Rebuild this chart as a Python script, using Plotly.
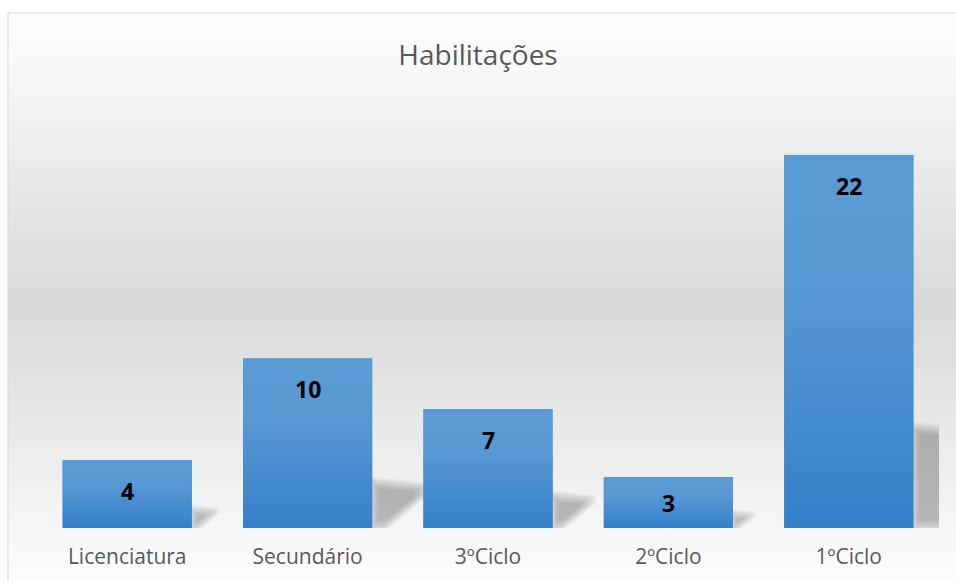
import base64, math, struct, zlib
import plotly.graph_objects as go

categories = ["Licenciatura", "Secundário", "3ºCiclo", "2ºCiclo", "1ºCiclo"]
values = [4, 10, 7, 3, 22]
title_text = "Habilitações"

W, H = 956, 581
L, R, T, B = 37, 17, 104, 53
Y_MAX = 25
plot_h = H - T - B
plot_w = W - L - R
BAR_W = 0.716
PPU_Y = plot_h / Y_MAX          # pixels per value unit
PPU_X = plot_w / len(categories)  # pixels per category unit

def px_to_paper_y(py):
    return (H - B - py) / plot_h

def px_to_paper_x(px):
    return (px - L) / plot_w

def make_png(colors):
    raw = b"".join(b"\x00" + bytes(c) for c in colors)
    def chunk(tag, data):
        c = struct.pack(">I", len(data)) + tag + data
        return c + struct.pack(">I", zlib.crc32(tag + data) & 0xffffffff)
    png = b"\x89PNG\r\n\x1a\n"
    png += chunk(b"IHDR", struct.pack(">IIBBBBB", 1, len(colors), 8, 2, 0, 0, 0))
    png += chunk(b"IDAT", zlib.compress(raw))
    png += chunk(b"IEND", b"")
    return "data:image/png;base64," + base64.b64encode(png).decode()

def lerp(a, b, t):
    return tuple(int(round(a[k] + (b[k] - a[k]) * t)) for k in range(3))

def stops_png(stops, n=300):
    cols = []
    for k in range(n):
        f = k / (n - 1)
        for (f0, c0), (f1, c1) in zip(stops[:-1], stops[1:]):
            if f0 <= f <= f1:
                cols.append(lerp(c0, c1, (f - f0) / (f1 - f0) if f1 > f0 else 0))
                break
    return make_png(cols)

bg_png = stops_png([(0.0, (255, 255, 255)), (0.5, (217, 217, 217)), (1.0, (255, 255, 255))])
bar_png = stops_png([(0.0, (91, 155, 213)), (0.35, (88, 152, 212)), (1.0, (53, 128, 202))])

frame_top_px, frame_bot_px = 13, 595
frame_left_px, frame_right_px = 8, 975

fig = go.Figure()
fig.add_trace(go.Bar(
    x=categories, y=values,
    marker=dict(color="#4a8ed2", line=dict(width=0)),
    width=BAR_W, hoverinfo="x+y",
))

bar_hw = BAR_W / 2
shapes = []
# soft perspective shadows to the right of each bar (layered offsets for blur)
offsets_px = [-9, -7, -5, -3, -1, 1, 3, 5, 7, 9]
for i, v in enumerate(values):
    x0 = i + bar_hw
    h = v * 0.27
    w = v * 0.028
    cx, cy = x0 + 0.4 * w, 0.55 * h
    pts = [(x0, 0), (x0, h), (x0 + w, 0.9 * h), (x0 + w, 0.72 * h), (x0 + 0.22 * w, 0)]
    for d in offsets_px:
        sp = []
        for px, py in pts:
            dx, dy = (px - cx) * PPU_X, (py - cy) * PPU_Y
            n = math.hypot(dx, dy) or 1.0
            sp.append((px + d * dx / n / PPU_X, py + d * dy / n / PPU_Y))
        path = "M " + " L ".join(f"{a:.4f},{b:.4f}" for a, b in sp) + " Z"
        shapes.append(dict(type="path", xref="x", yref="y", path=path,
                           fillcolor="rgba(0,0,0,0.028)", line=dict(width=0),
                           layer="below"))

shapes.append(dict(type="rect", xref="paper", yref="paper",
                   x0=px_to_paper_x(frame_left_px), x1=px_to_paper_x(frame_right_px),
                   y0=px_to_paper_y(frame_bot_px), y1=px_to_paper_y(frame_top_px),
                   line=dict(color="#d9d9d9", width=1), fillcolor="rgba(0,0,0,0)",
                   layer="above"))

images = [dict(source=bg_png, xref="paper", yref="paper",
               x=px_to_paper_x(frame_left_px), y=px_to_paper_y(frame_top_px),
               sizex=px_to_paper_x(frame_right_px) - px_to_paper_x(frame_left_px),
               sizey=px_to_paper_y(frame_top_px) - px_to_paper_y(frame_bot_px),
               sizing="stretch", xanchor="left", yanchor="top", layer="below")]
# vertical gradient fill laid over each bar
for i, v in enumerate(values):
    images.append(dict(source=bar_png, xref="x", yref="y", x=i - bar_hw, y=v,
                       sizex=BAR_W, sizey=v, sizing="stretch",
                       xanchor="left", yanchor="top", layer="above"))

# data labels: "inside end", falling back to bar centre when the bar is short
annotations = []
for c, v in zip(categories, values):
    ly = max(v - 31 / PPU_Y, v / 2)
    annotations.append(dict(x=c, y=ly, xref="x", yref="y", text=f"<b>{v}</b>",
                            showarrow=False, yanchor="middle",
                            font=dict(family="Open Sans", size=23, color="#000000")))

fig.update_layout(
    width=W, height=H,
    margin=dict(l=L, r=R, t=T, b=B),
    paper_bgcolor="#ffffff", plot_bgcolor="rgba(0,0,0,0)",
    title=dict(text=title_text, x=0.5, xanchor="center", y=1 - 55 / H, yanchor="middle",
               font=dict(family="Open Sans", size=28, color="#595959")),
    xaxis=dict(showgrid=False, showline=False, zeroline=False, ticks="",
               tickfont=dict(family="Open Sans", size=21, color="#595959"),
               ticklabelstandoff=14, range=[-0.5, 4.5]),
    yaxis=dict(visible=False, range=[0, Y_MAX]),
    bargap=0.284,
    showlegend=False,
    shapes=shapes,
    annotations=annotations,
    images=images,
)

fig.write_html("out.html", config={"displayModeBar": False},
               post_script="document.body.style.margin='0';document.body.style.overflow='hidden';")
